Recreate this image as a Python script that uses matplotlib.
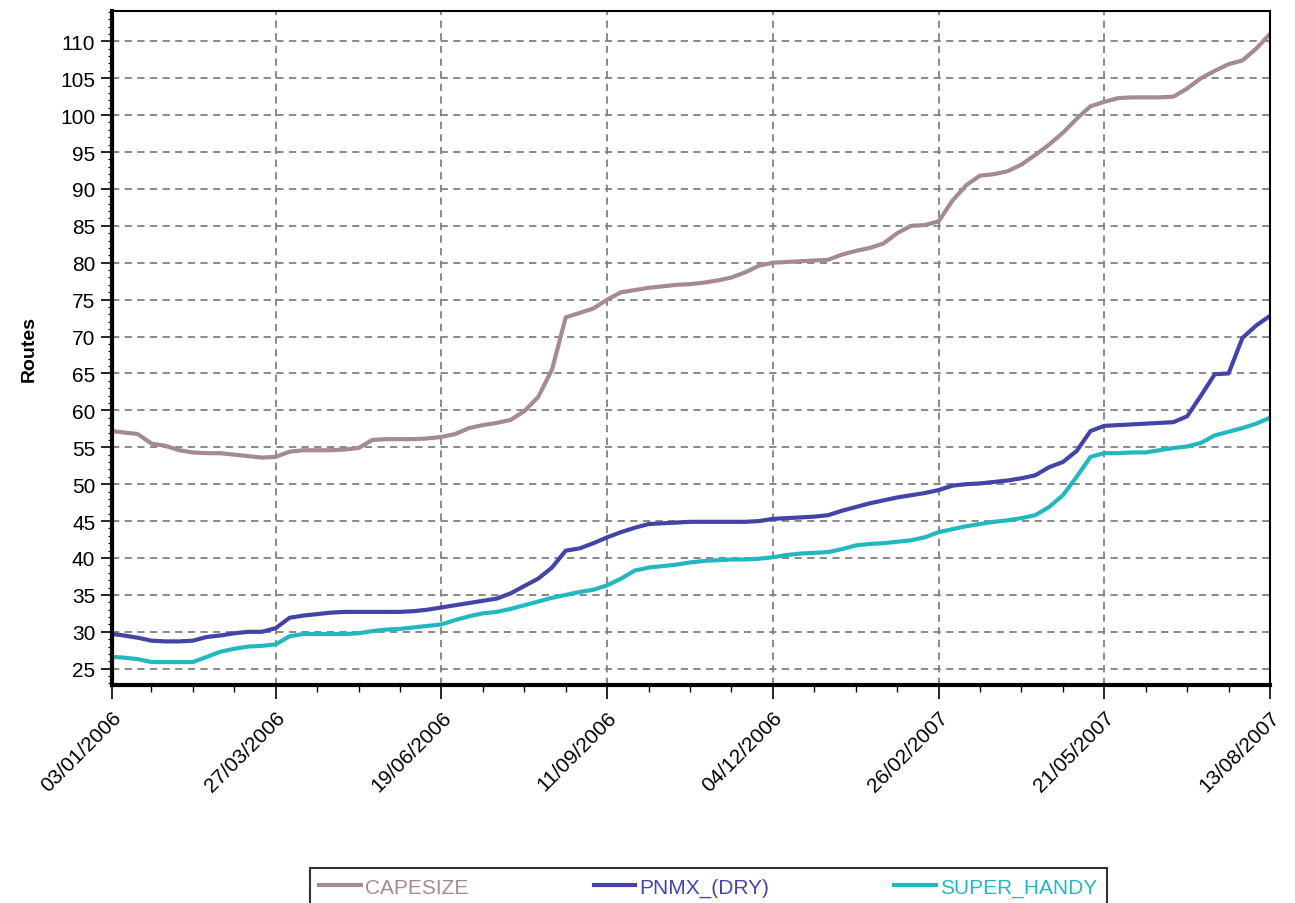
import numpy as np
import pandas as pd
import matplotlib
matplotlib.use("Agg")
import matplotlib.pyplot as plt
import matplotlib.dates as mdates
from matplotlib.ticker import MultipleLocator

# weekly values: 03/01/2006, then Mondays up to 13/08/2007
first_day = "2006-01-03"
first_monday = "2006-01-02"
n_weeks = 85

capesize = [
    57.2, 57.0, 56.8, 55.5, 55.2, 54.6, 54.3, 54.2, 54.2, 54.0,
    53.8, 53.6, 53.7, 54.4, 54.6, 54.6, 54.6, 54.7, 54.9, 56.0,
    56.1, 56.1, 56.1, 56.2, 56.4, 56.8, 57.6, 58.0, 58.3, 58.7,
    59.9, 61.8, 65.5, 72.6, 73.2, 73.8, 75.0, 76.0, 76.3, 76.6,
    76.8, 77.0, 77.1, 77.3, 77.6, 78.0, 78.7, 79.6, 80.0, 80.1,
    80.2, 80.3, 80.4, 81.1, 81.6, 82.0, 82.6, 84.0, 85.0, 85.1,
    85.6, 88.4, 90.5, 91.8, 92.0, 92.4, 93.3, 94.6, 96.0, 97.6,
    99.5, 101.2, 101.8, 102.3, 102.4, 102.4, 102.4, 102.5, 103.6, 105.0,
    106.0, 106.9, 107.4, 109.0, 111.0,
]
pnmx_dry = [
    29.7, 29.5, 29.2, 28.8, 28.7, 28.7, 28.8, 29.3, 29.5, 29.8,
    30.0, 30.0, 30.5, 31.9, 32.2, 32.4, 32.6, 32.7, 32.7, 32.7,
    32.7, 32.7, 32.8, 33.0, 33.3, 33.6, 33.9, 34.2, 34.5, 35.2,
    36.2, 37.2, 38.7, 41.0, 41.3, 42.0, 42.8, 43.5, 44.1, 44.6,
    44.7, 44.8, 44.9, 44.9, 44.9, 44.9, 44.9, 45.0, 45.3, 45.4,
    45.5, 45.6, 45.8, 46.4, 46.9, 47.4, 47.8, 48.2, 48.5, 48.8,
    49.2, 49.8, 50.0, 50.1, 50.3, 50.5, 50.8, 51.2, 52.3, 53.0,
    54.5, 57.2, 57.9, 58.0, 58.1, 58.2, 58.3, 58.4, 59.2, 62.0,
    64.9, 65.0, 69.8, 71.5, 72.8,
]
super_handy = [
    26.6, 26.5, 26.3, 25.9, 25.9, 25.9, 25.9, 26.6, 27.3, 27.7,
    28.0, 28.1, 28.3, 29.4, 29.7, 29.7, 29.7, 29.7, 29.8, 30.1,
    30.3, 30.4, 30.6, 30.8, 31.0, 31.6, 32.1, 32.5, 32.7, 33.1,
    33.6, 34.1, 34.6, 35.0, 35.4, 35.7, 36.3, 37.2, 38.3, 38.7,
    38.9, 39.1, 39.4, 39.6, 39.7, 39.8, 39.8, 39.9, 40.1, 40.4,
    40.6, 40.7, 40.8, 41.2, 41.7, 41.9, 42.0, 42.2, 42.4, 42.8,
    43.5, 43.9, 44.3, 44.6, 44.9, 45.1, 45.4, 45.8, 46.9, 48.5,
    51.0, 53.7, 54.2, 54.2, 54.3, 54.3, 54.6, 54.9, 55.1, 55.6,
    56.6, 57.1, 57.6, 58.2, 59.0,
]
series_names = ["CAPESIZE", "PNMX_(DRY)", "SUPER_HANDY"]
series_colors = ["#a68a93", "#4444a8", "#22b8c2"]

dates = pd.date_range(first_monday, periods=n_weeks, freq="7D").tolist()
dates[0] = pd.Timestamp(first_day)

plt.rcParams["font.family"] = ["Liberation Sans", "DejaVu Sans"]

fig = plt.figure(figsize=(12.95, 9.04), dpi=100)
ax = fig.add_axes([0.0865, 0.2412, 0.8942, 0.7455])

for vals, name, col in zip([capesize, pnmx_dry, super_handy], series_names, series_colors):
    ax.plot(dates, vals, color=col, lw=3, label=name)

ax.set_xlim(dates[0], dates[-1])
ax.set_ylim(22.8, 114.1)

ax.set_xticks(dates[::12])
ax.set_xticks(dates[::3], minor=True)
ax.xaxis.set_major_formatter(mdates.DateFormatter("%d/%m/%Y"))
ax.yaxis.set_minor_locator(MultipleLocator(1))
ax.set_yticks(np.arange(25, 111, 5))

ax.grid(True, which="major", color="#808080", linestyle=(0, (4, 3)), lw=1.3)
ax.set_axisbelow(True)

for lbl in ax.get_xticklabels():
    lbl.set_rotation(45)
    lbl.set_ha("right")
    lbl.set_va("top")
    lbl.set_rotation_mode("anchor")
ax.tick_params(axis="x", which="major", length=10, width=1.2, labelsize=15, pad=6)
ax.tick_params(axis="x", which="minor", length=5, width=1)
ax.tick_params(axis="y", which="major", length=8, width=1.2, labelsize=15, pad=4)
ax.tick_params(axis="y", which="minor", length=3, width=0.8)

ax.spines["left"].set_linewidth(3)
ax.spines["bottom"].set_linewidth(3)
ax.spines["top"].set_linewidth(1.5)
ax.spines["right"].set_linewidth(1.5)

ax.set_ylabel("Routes", fontsize=14, fontweight="bold", labelpad=16)

leg = fig.legend(loc="upper center", bbox_to_anchor=(0.547, 0.050), ncol=3,
                 fontsize=15, frameon=True, fancybox=False, edgecolor="black",
                 handlelength=2.0, handletextpad=0.2, columnspacing=6.0,
                 borderpad=0.45)
leg.get_frame().set_linewidth(1.5)
for txt, col in zip(leg.get_texts(), series_colors):
    txt.set_color(col)

fig.savefig("out.png", dpi=100)
